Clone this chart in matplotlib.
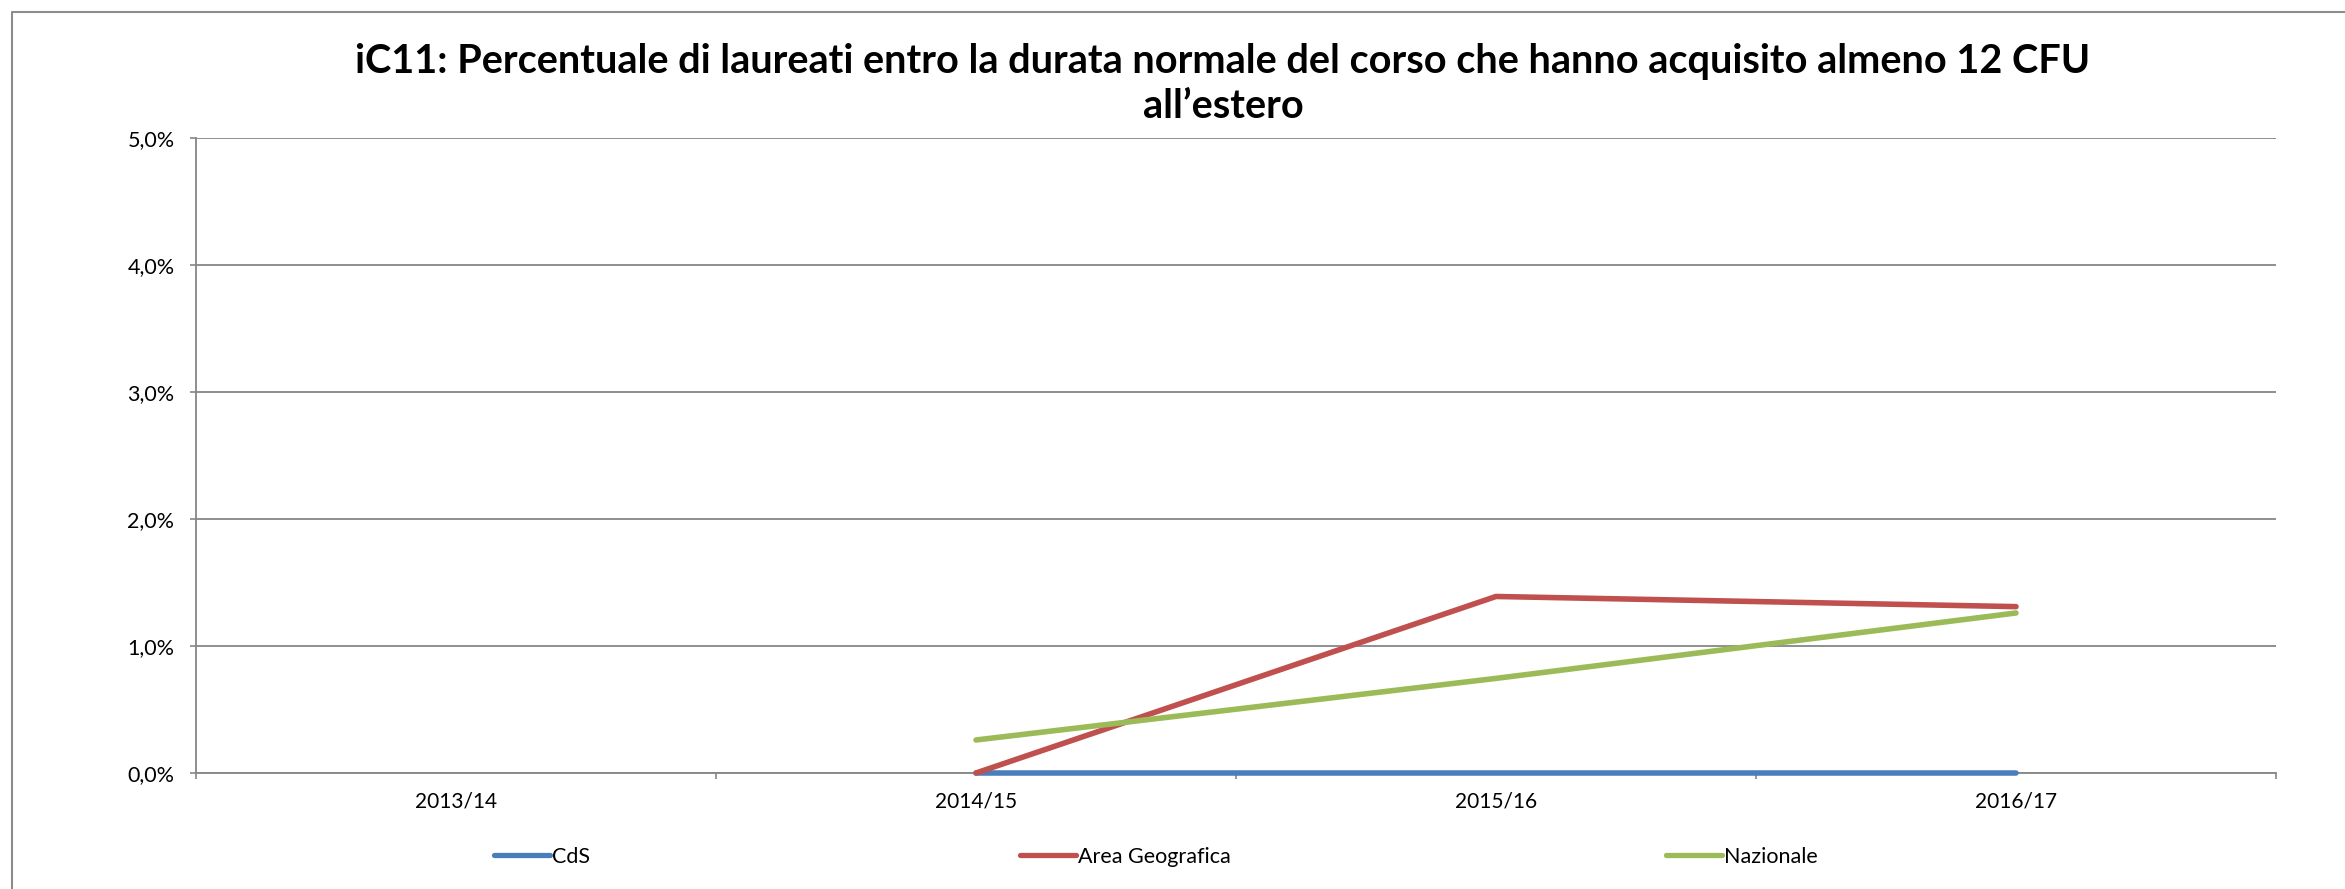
import numpy as np
import matplotlib
matplotlib.use("Agg")
from matplotlib import pyplot as plt
from matplotlib.lines import Line2D
from matplotlib.ticker import FuncFormatter, FixedLocator

# data (percent)
years = ["2013/14", "2014/15", "2015/16", "2016/17"]
cds = [np.nan, 0.0, 0.0, 0.0]
area_geo = [np.nan, 0.0, 1.39, 1.31]
nazionale = [np.nan, 0.26, 0.745, 1.26]
series_names = ["CdS", "Area Geografica", "Nazionale"]
colors = ["#4A7EBB", "#C0504D", "#9BBB59"]

title = ("iC11: Percentuale di laureati entro la durata normale del corso che hanno acquisito almeno 12 CFU\n"
         "all\u2019estero")

plt.rcParams['font.family'] = ['Lato', 'DejaVu Sans']

W, H = 2345, 889
fig = plt.figure(figsize=(W / 100, H / 100), dpi=100)
ax = fig.add_axes([196 / W, 1 - 773 / H, (2276 - 196) / W, (773 - 138) / H])

x = np.arange(len(years))
for vals, c in zip([cds, area_geo, nazionale], colors):
    ax.plot(x, vals, color=c, lw=4.0, solid_capstyle='round', solid_joinstyle='miter',
            zorder=3, clip_on=False)

ax.set_xlim(-0.5, len(years) - 0.5)
ax.set_ylim(0, 5)
ax.set_yticks(np.arange(0, 6, 1))
ax.yaxis.set_major_formatter(FuncFormatter(lambda v, p: f"{v:.1f}".replace(".", ",") + "%"))
ax.set_xticks(x)
ax.set_xticklabels(years)
ax.xaxis.set_minor_locator(FixedLocator(np.arange(-0.5, len(years), 1)))

grey = "#868686"
ax.tick_params(axis='x', which='major', length=0, pad=13, labelsize=15, colors='black')
ax.tick_params(axis='x', which='minor', length=4.5, width=1.2, color=grey, direction='out')
ax.tick_params(axis='y', length=4.5, width=1.2, color=grey, pad=11, labelsize=15.5, labelcolor='black')

ax.grid(axis='y', color=grey, lw=1.3, zorder=0)
ax.set_axisbelow(True)
for s in ['top', 'right']:
    ax.spines[s].set_visible(False)
for s in ['left', 'bottom']:
    ax.spines[s].set_color(grey)
    ax.spines[s].set_linewidth(1.3)

fig.text(1223 / W, 1 - 84 / H, title, ha='center', va='center', fontsize=28.5,
         fontweight='bold', linespacing=1.3)

# outer chart border (left and top visible)
fig.add_artist(Line2D([12 / W, 12 / W, 1.0], [0.0, 1 - 12 / H, 1 - 12 / H],
                      color="#8C8C8C", lw=1.5, transform=fig.transFigure))

# legend entries
leg_x = [492, 1018, 1664]
for name, c, lx in zip(series_names, colors, leg_x):
    h = Line2D([0], [0], color=c, lw=3.8, solid_capstyle='round')
    lg = fig.legend([h], [name], loc='center left', bbox_to_anchor=(lx / W - 0.003, 1 - 857 / H),
                    frameon=False, fontsize=15.5, handlelength=2.6, handletextpad=0.1,
                    borderaxespad=0)

fig.savefig("out.png", dpi=100)
